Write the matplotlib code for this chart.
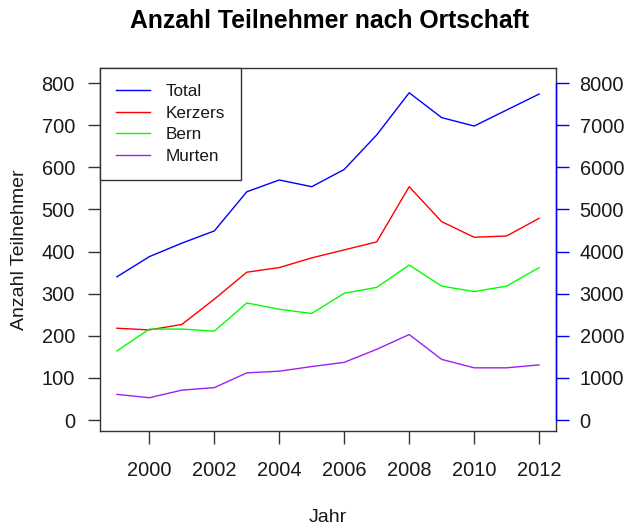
import matplotlib
matplotlib.use("Agg")
import matplotlib.pyplot as plt

plt.rcParams['font.family'] = ['Liberation Sans', 'DejaVu Sans']

years = [1999, 2000, 2001, 2002, 2003, 2004, 2005, 2006, 2007, 2008, 2009, 2010, 2011, 2012]
total = [3400, 3880, 4200, 4490, 5420, 5700, 5540, 5950, 6770, 7770, 7180, 6980, 7360, 7740]
kerzers = [218, 214, 227, 287, 351, 362, 385, 404, 423, 554, 471, 434, 437, 479]
bern = [164, 216, 216, 211, 278, 263, 253, 301, 315, 368, 318, 305, 318, 362]
murten = [61, 53, 71, 77, 112, 116, 127, 137, 168, 203, 144, 124, 124, 131]

left_ticks = [0, 100, 200, 300, 400, 500, 600, 700, 800]
right_ticks = [0, 1000, 2000, 3000, 4000, 5000, 6000, 7000, 8000]
x_ticks = [2000, 2002, 2004, 2006, 2008, 2010, 2012]

c_total = '#0000FF'
c_kerzers = '#FF0000'
c_bern = '#00FF00'
c_murten = '#A020F0'

fig = plt.figure(figsize=(6.27, 5.27), dpi=100)
ax = fig.add_axes([100/627, 1-431/527, (556-100)/627, (431-67.5)/527])
ax2 = ax.twinx()

lw = 1.0
l_k, = ax.plot(years, kerzers, color=c_kerzers, lw=lw, label='Kerzers')
l_b, = ax.plot(years, bern, color=c_bern, lw=lw, label='Bern')
l_m, = ax.plot(years, murten, color=c_murten, lw=lw, label='Murten')
l_t, = ax2.plot(years, total, color=c_total, lw=lw, label='Total')

ax.set_xlim(1998.48, 2012.52)
ylo, yhi = -26, 837
ax.set_ylim(ylo, yhi)
ax2.set_ylim(ylo*10, yhi*10)

ax.set_xticks(x_ticks)
ax.set_yticks(left_ticks)
ax2.set_yticks(right_ticks)

fs = 14.4
tl = 9.0
ax.tick_params(axis='y', direction='out', length=tl, width=1, colors='#333333', labelcolor='#1a1a1a', labelsize=fs, pad=9)
ax.tick_params(axis='x', direction='out', length=tl, width=1, colors='#333333', labelcolor='#1a1a1a', labelsize=fs, pad=12.5)
ax2.tick_params(axis='y', direction='out', length=tl, width=1, color=c_total, labelcolor='#1a1a1a', labelsize=fs, pad=8)

for s in ax.spines.values():
    s.set_color('#333333'); s.set_linewidth(1)
for name in ['left', 'top', 'bottom']:
    ax2.spines[name].set_visible(False)
ax2.spines['right'].set_color(c_total)
ax2.spines['right'].set_linewidth(1)
ax2.spines['right'].set_bounds(0, 8000)

ax.set_xlabel('Jahr', fontsize=14, labelpad=21, color='#1a1a1a')
ax.set_ylabel('Anzahl Teilnehmer', fontsize=14, labelpad=10, color='#1a1a1a')
fig.suptitle('Anzahl Teilnehmer nach Ortschaft', fontsize=17.8, fontweight='bold', x=(100+556)/2/627 + 2/627, y=1-21/527, va='center')

leg = ax2.legend(handles=[l_t, l_k, l_b, l_m], loc='upper left', fontsize=12.3,
                 fancybox=False, framealpha=1, edgecolor='#333333', borderaxespad=0,
                 handlelength=1.95, handletextpad=0.95, labelspacing=0.4, borderpad=0.95)
leg.get_frame().set_linewidth(1)
for t in leg.get_texts():
    t.set_color('#1a1a1a')

fig.savefig('out.png', dpi=100)
